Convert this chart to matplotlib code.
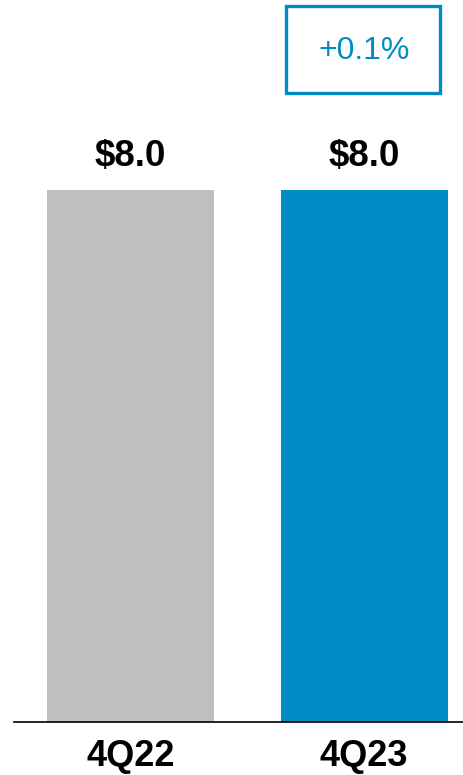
import matplotlib
matplotlib.use('Agg')
import matplotlib.pyplot as plt
from matplotlib.patches import Rectangle

plt.rcParams['font.family'] = ['Liberation Sans', 'DejaVu Sans']

# ===== 数据 =====
quarters = ['4Q22', '4Q23']
values = [8.0, 8.0]
value_labels = ['$8.0', '$8.0']
change_label = '+0.1%'

GRAY = '#bfbfbf'
BLUE = '#008bc4'

fig = plt.figure(figsize=(4.64, 7.75), dpi=100)
ax = fig.add_axes([14 / 464, 53 / 775, 450 / 464, 722 / 775])

x = range(len(quarters))
bars = ax.bar(x, values, width=0.715, color=[GRAY, BLUE])

for b, lab in zip(bars, value_labels):
    ax.annotate(lab, (b.get_x() + b.get_width() / 2, b.get_height()),
                xytext=(0, 24), textcoords='offset points',
                ha='center', va='center', fontsize=26.5, fontweight='bold')

ax.set_xlim(-0.499, 1.428)
ax.set_ylim(0, 8.0 * 722 / 532)
ax.set_xticks(list(x))
ax.set_xticklabels(quarters, fontsize=26, fontweight='bold')
ax.tick_params(axis='x', length=0, pad=12)
ax.set_yticks([])
for s in ['top', 'right', 'left']:
    ax.spines[s].set_visible(False)
ax.spines['bottom'].set_linewidth(1.2)

# 变化幅度框
fig.patches.append(Rectangle((286 / 464, 1 - 93 / 775), 154 / 464, 87 / 775,
                             transform=fig.transFigure, fill=False,
                             edgecolor=BLUE, linewidth=2.4))
fig.text(364 / 464, 1 - 51 / 775, change_label, ha='center', va='center',
         fontsize=23, color=BLUE)

fig.savefig('out.png', dpi=100)
